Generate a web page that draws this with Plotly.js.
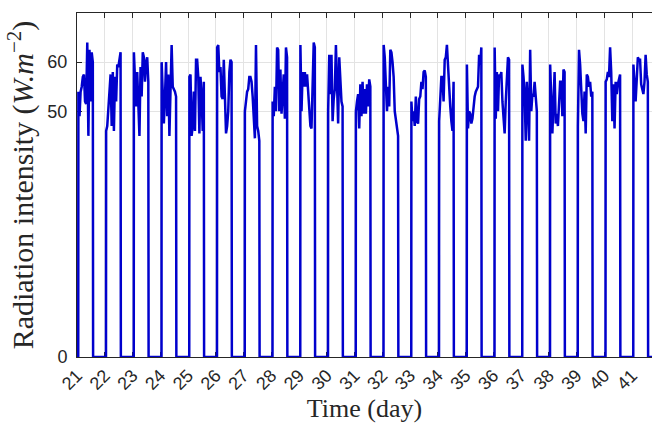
<!DOCTYPE html>
<html>
<head>
<meta charset="utf-8">
<script src="https://cdn.plot.ly/plotly-3.0.1.min.js"></script>
<style>html,body{margin:0;padding:0;background:#fff;}#chart{width:652px;height:424px;}</style>
</head>
<body>
<div id="chart"></div>
<script>
// Days shown on the x axis
const days = [21,22,23,24,25,26,27,28,29,30,31,32,33,34,35,36,37,38,39,40,41];
// Sample times within each day (fraction of the day) during daylight
const dayOffsets = [0.05,0.09,0.13,0.17,0.21,0.25,0.29,0.33,0.37,0.41,0.45,0.49,0.53,0.57];
const sunriseOffset = 0.045;
const sunsetOffset = 0.58;
const nightValue = 0;
// Radiation intensity (W/m^2) read at each daylight sample, one array per day
const d21 = [54, 49, 54, 55, 57, 57.5, 52, 51.5, 64, 45, 62.5, 52, 62, 60];
const d22 = [46, 47, 50, 54, 57.5, 47, 58, 46, 57, 52, 59.5, 59, 61, 62];
const d23 = [62, 57, 51, 58, 50, 45, 59, 53, 62, 61, 56, 60, 61, 56];
const d24 = [60, 54, 47.5, 53, 60, 49, 57.5, 45, 55, 63.5, 55, 54.5, 54, 53];
const d25 = [57, 57.5, 45, 47, 54, 46, 60.5, 60.5, 57, 45.5, 57, 53, 46, 56];
const d26 = [63, 63.5, 58, 59, 53, 52.5, 60.5, 53, 45.5, 47, 50, 58, 60.5, 60];
const d27 = [50, 52, 54, 54.5, 57, 57, 56, 53, 47, 44.5, 63.5, 47, 46, 44];
const d28 = [52, 49, 55, 50, 63, 62.5, 50, 58.5, 49.5, 54.5, 57.5, 48.5, 63, 61];
const d29 = [63.5, 50, 58, 55, 58, 55, 57.5, 54, 49, 47, 46.5, 55, 64, 63];
const d30 = [50, 61.5, 53.5, 61.5, 48, 52.5, 54.5, 63.5, 51.5, 47.5, 61, 57, 52, 51];
const d31 = [50, 52, 53.5, 46.5, 55.5, 49, 56, 49.5, 54.5, 49.5, 55.5, 51, 56.5, 55];
const d32 = [63.5, 61, 53.5, 50, 55, 51, 62.5, 62, 60, 57, 50, 48, 46, 45];
const d33 = [52, 48, 50, 47, 53, 48, 47.5, 52.5, 53, 56, 54.5, 58, 58.3, 57];
const d34 = [48, 51.5, 57, 57, 52, 60.5, 61, 63.5, 58.5, 53, 51, 48, 46, 56];
const d35 = [59.5, 46.5, 50, 49.5, 47.5, 48.5, 51, 53, 54, 54.5, 55, 61.5, 59.5, 63];
const d36 = [63, 48.5, 58, 50, 57.5, 57, 58, 52, 47.5, 45.5, 52, 55.5, 61, 60.5];
const d37 = [59.5, 57, 53.5, 44, 56, 51.5, 44, 62.5, 50, 53.5, 53, 56, 53, 50];
const d38 = [59.5, 51, 45.5, 52, 58, 47.5, 49.5, 47, 52, 56, 56, 49, 58.5, 58];
const d39 = [47, 62.5, 59.5, 52, 49.5, 48, 54, 45.5, 57.5, 57, 55, 56, 53, 54];
const d40 = [56, 56.5, 58, 57, 63, 58, 48, 55.5, 46.5, 56, 53.5, 55.5, 57, 57.5];
const d41 = [59.5, 55, 52, 56.5, 61, 60.5, 60.5, 55.5, 54, 53.5, 56, 61.5, 57.5, 56];
const dailyValues = [d21,d22,d23,d24,d25,d26,d27,d28,d29,d30,d31,d32,d33,d34,d35,d36,d37,d38,d39,d40,d41];
const yTicks = [0, 50, 60];

// Build the continuous time series
const xs = [], ys = [];
days.forEach((d, i) => {
  xs.push(d + sunriseOffset); ys.push(nightValue);
  dayOffsets.forEach((o, k) => { xs.push(d + o); ys.push(dailyValues[i][k]); });
  xs.push(d + sunsetOffset); ys.push(nightValue);
});
xs.push(days[days.length - 1] + 1); ys.push(nightValue);

const trace = {
  x: xs, y: ys, type: 'scatter', mode: 'lines',
  line: {color: 'rgb(0,0,205)', width: 2.5},
  hoverinfo: 'skip'
};

const axisColor = '#262626';
const layout = {
  width: 652, height: 424,
  margin: {l: 77, r: 0, t: 13, b: 67},
  paper_bgcolor: '#fff', plot_bgcolor: '#fff',
  showlegend: false,
  xaxis: {
    range: [21, 41.72],
    tickvals: days, ticktext: days.map(String),
    tickangle: -45,
    tickfont: {family: 'Liberation Sans, Arial, sans-serif', size: 18, color: axisColor},
    ticks: 'inside', ticklen: 5, tickcolor: axisColor,
    showline: true, linecolor: axisColor, linewidth: 1, mirror: 'ticks',
    showgrid: true, gridcolor: '#e3e3e3', gridwidth: 1,
    zeroline: false, layer: 'below traces',
    title: {text: 'Time (day)', font: {family: 'Liberation Serif, Times New Roman, serif', size: 26, color: axisColor}, standoff: 2}
  },
  yaxis: {
    range: [0, 70],
    tickvals: yTicks, ticktext: yTicks.map(String),
    tickfont: {family: 'Liberation Sans, Arial, sans-serif', size: 18, color: axisColor},
    ticklabelstandoff: 5,
    ticks: 'inside', ticklen: 5, tickcolor: axisColor,
    showline: true, linecolor: axisColor, linewidth: 1, mirror: false,
    showgrid: true, gridcolor: '#e3e3e3', gridwidth: 1,
    zeroline: false, layer: 'below traces',
    title: {text: 'Radiation intensity (<i>W.m</i><sup>−2</sup>)', font: {family: 'Liberation Serif, Times New Roman, serif', size: 30, color: axisColor}, standoff: 4}
  }
};

Plotly.newPlot('chart', [trace], layout, {staticPlot: true, displayModeBar: false});
</script>
</body>
</html>
